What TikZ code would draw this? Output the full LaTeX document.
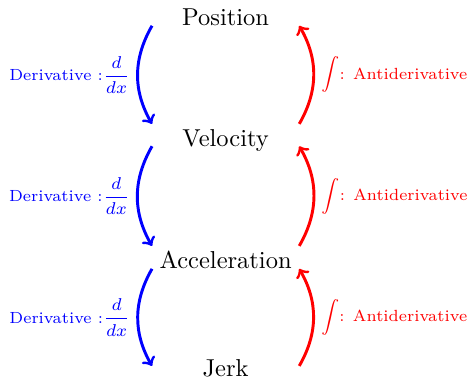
\documentclass[tikz,border=0pt]{standalone}
\usepackage{amsmath}

\begin{document}
\begin{tikzpicture}[
        word/.style={minimum width=2.1cm, inner xsep=2.5pt, inner ysep=2pt},
        deriv/.style={->, very thick, blue},
        integ/.style={->, very thick, red},
        lbl/.style={font=\fontsize{6.6}{8}\selectfont, inner xsep=2.5pt}
    ]
        \useasboundingbox (0,0) rectangle (6.72,-5.50);

        % 量
        \node[word, anchor=base] (pos) at (3.24,-0.37) {Position};
        \node[word, anchor=base] (vel) at (3.24,-2.10) {Velocity};
        \node[word, anchor=base] (acc) at (3.24,-3.86) {Acceleration};
        \node[word, anchor=base] (jerk) at (3.24,-5.41) {Jerk};

        % 求导
        \draw[deriv] (pos.base west) to[bend right=30]
            node[left, lbl] {Derivative :$\dfrac{d}{dx}$} (vel.north west);
        \draw[deriv] (vel.base west) to[bend right=30]
            node[left, lbl] {Derivative :$\dfrac{d}{dx}$} (acc.north west);
        \draw[deriv] (acc.base west) to[bend right=30]
            node[left, lbl] {Derivative :$\dfrac{d}{dx}$} ([yshift=-4.7pt]jerk.north west);

        % 积分
        \draw[integ] (vel.north east) to[bend right=30]
            node[right, lbl] {$\displaystyle\int$: Antiderivative} (pos.base east);
        \draw[integ] (acc.north east) to[bend right=30]
            node[right, lbl] {$\displaystyle\int$: Antiderivative} (vel.base east);
        \draw[integ] ([yshift=-4.7pt]jerk.north east) to[bend right=30]
            node[right, lbl] {$\displaystyle\int$: Antiderivative} (acc.base east);
    \end{tikzpicture}
\end{document}
